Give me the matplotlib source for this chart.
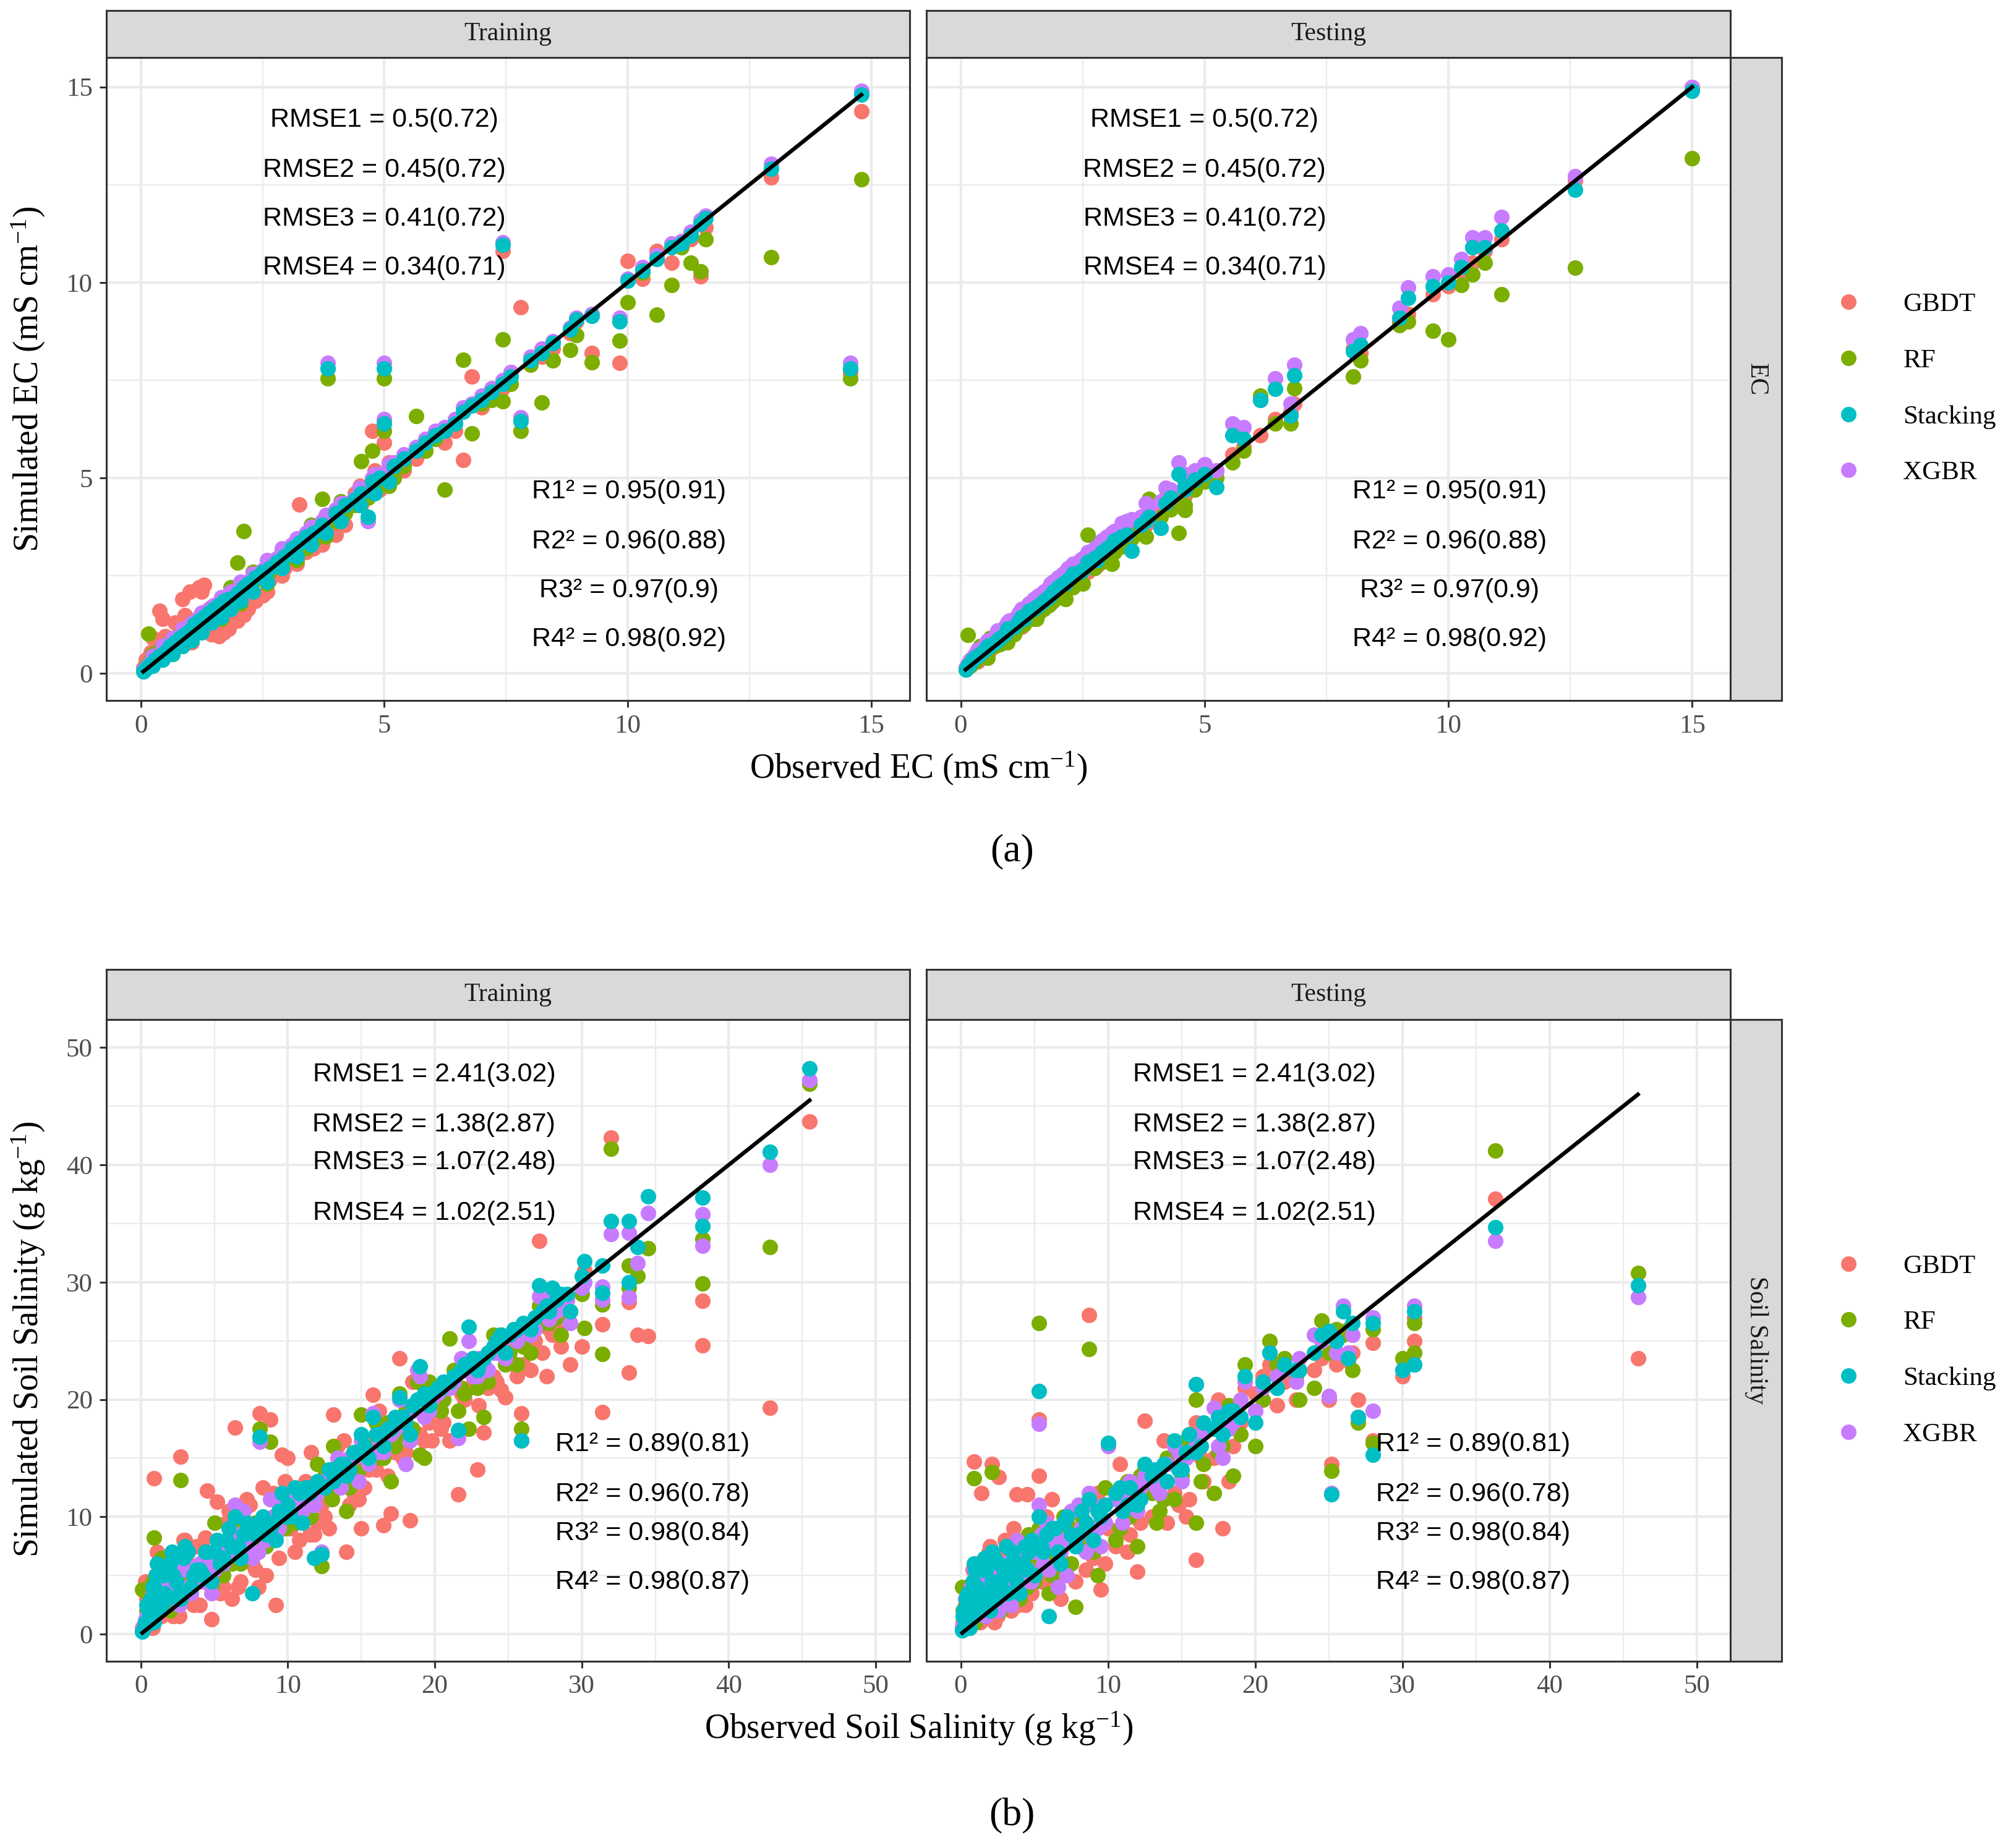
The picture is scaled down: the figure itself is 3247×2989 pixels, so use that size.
import numpy as np
import matplotlib
matplotlib.use('Agg')
import matplotlib.pyplot as plt
from matplotlib.lines import Line2D

plt.rcParams['font.family'] = ['Liberation Serif', 'DejaVu Serif']
plt.rcParams['mathtext.fontset'] = 'custom'
plt.rcParams['mathtext.rm'] = 'Liberation Serif'
plt.rcParams['mathtext.it'] = 'Liberation Serif:italic'

models = ['GBDT', 'RF', 'Stacking', 'XGBR']
colors = {'GBDT': '#F8766D', 'RF': '#7CAE00', 'Stacking': '#00BFC4', 'XGBR': '#C77CFF'}
draw_order = ['GBDT', 'RF', 'XGBR', 'Stacking']

# ---------------- EC, training ----------------
tr_ec_obs = [0.05, 0.1, 0.15, 0.2, 0.3, 0.38, 0.5, 0.6, 0.7, 0.8,
             0.9, 1.0, 1.1, 1.2, 1.3, 1.4, 1.5, 1.6, 1.7, 1.8,
             1.98, 2.11, 2.2, 2.35, 2.5, 2.65, 2.8, 2.95, 3.1, 3.25,
             3.4, 3.55, 3.73, 3.84, 4.0, 4.2, 4.4, 4.53, 4.67, 4.75,
             4.9, 5.0, 5.0, 5.2, 5.4, 5.65, 5.85, 6.05, 6.24, 6.45,
             6.62, 6.8, 7.0, 7.2, 7.44, 7.44, 7.6, 7.8, 8.0, 8.24,
             8.46, 8.82, 8.95, 9.26, 9.83, 10.0, 10.3, 10.6, 10.9, 11.1,
             11.3, 11.5, 11.6, 12.95, 14.57, 14.8,
             0.25, 0.45, 0.65, 0.85, 1.05, 1.25, 1.45, 1.65, 1.85, 2.05,
             2.3, 2.6, 2.9, 3.2, 3.5, 3.8, 4.1, 4.5, 4.8, 5.1]
tr_ec_gbdt = [0.15, 0.35, 0.2, 0.55, 0.3, 1.6, 0.95, 0.7, 1.3, 1.0,
              1.5, 2.1, 1.3, 2.2, 2.26, 1.65, 1.2, 0.95, 1.05, 1.15,
              1.35, 1.5, 1.65, 1.85, 2.0, 2.4, 2.55, 2.7, 2.9, 4.33,
              3.1, 3.2, 3.3, 3.95, 3.55, 3.8, 4.6, 4.3, 4.5, 6.2,
              4.7, 5.1, 5.9, 5.0, 5.2, 5.5, 5.7, 6.0, 5.9, 6.2,
              5.46, 7.6, 6.8, 7.1, 10.8, 7.3, 7.7, 9.37, 8.0, 8.1,
              8.3, 8.7, 9.0, 8.2, 7.95, 10.55, 10.1, 10.8, 10.5, 11.0,
              11.1, 10.15, 11.4, 12.68, 7.7, 14.37,
              0.9, 1.4, 0.5, 1.9, 0.8, 2.1, 1.0, 1.2, 1.4, 1.6,
              1.9, 2.1, 2.5, 2.8, 3.2, 4.0, 4.2, 4.8, 5.2, 5.4]
tr_ec_rf = [0.1, 0.2, 1.02, 0.35, 0.45, 0.6, 0.7, 0.8, 0.85, 1.0,
            1.05, 1.1, 1.3, 1.35, 1.5, 1.55, 1.6, 1.8, 1.85, 1.95,
            2.83, 3.64, 2.3, 2.4, 2.55, 2.6, 2.8, 2.9, 3.05, 3.3,
            3.2, 3.4, 4.46, 7.55, 3.9, 4.1, 4.3, 5.43, 4.5, 5.7,
            4.8, 7.55, 6.2, 5.0, 5.3, 6.58, 5.7, 6.0, 4.7, 6.4,
            8.02, 6.14, 6.9, 7.0, 8.55, 6.96, 7.4, 6.2, 7.9, 6.93,
            8.0, 8.27, 8.65, 7.96, 8.52, 9.5, 10.25, 9.17, 9.93, 10.9,
            10.5, 10.28, 11.1, 10.65, 7.55, 12.64,
            0.5, 0.4, 0.9, 0.7, 1.3, 1.1, 1.7, 1.4, 2.2, 1.8,
            2.6, 2.3, 3.1, 2.9, 3.8, 3.5, 4.4, 4.3, 5.0, 4.8]
tr_ec_xgbr = [0.1, 0.15, 0.22, 0.3, 0.4, 0.5, 0.62, 0.75, 0.85, 0.95,
              1.1, 1.2, 1.3, 1.45, 1.5, 1.6, 1.75, 1.8, 1.9, 2.0,
              2.1, 2.25, 2.35, 2.5, 2.65, 2.8, 2.95, 3.1, 3.3, 3.45,
              3.6, 3.7, 3.9, 7.95, 4.2, 4.35, 4.5, 4.7, 3.9, 5.0,
              5.1, 7.95, 6.5, 5.4, 5.6, 5.8, 6.0, 6.2, 6.3, 6.5,
              6.8, 6.9, 7.1, 7.3, 11.03, 7.5, 7.7, 6.55, 8.1, 8.3,
              8.5, 8.85, 9.1, 9.2, 9.1, 10.1, 10.4, 10.7, 11.0, 11.05,
              11.3, 11.6, 11.7, 13.04, 7.95, 14.9,
              0.45, 0.7, 0.9, 1.15, 1.3, 1.55, 1.7, 1.95, 2.1, 2.35,
              2.55, 2.9, 3.2, 3.45, 3.75, 4.05, 4.35, 4.75, 5.1, 5.35]
tr_ec_stack = [0.05, 0.12, 0.18, 0.25, 0.35, 0.45, 0.55, 0.7, 0.8, 0.9,
               1.0, 1.1, 1.25, 1.35, 1.45, 1.55, 1.65, 1.75, 1.85, 1.9,
               2.05, 2.2, 2.3, 2.45, 2.6, 2.7, 2.85, 3.0, 3.2, 3.35,
               3.5, 3.6, 3.8, 7.8, 4.1, 4.3, 4.45, 4.6, 4.0, 4.9,
               5.0, 7.8, 6.4, 5.3, 5.5, 5.7, 5.9, 6.1, 6.2, 6.4,
               6.7, 6.85, 7.0, 7.2, 10.97, 7.4, 7.6, 6.45, 8.0, 8.2,
               8.45, 8.8, 9.05, 9.15, 9.0, 10.05, 10.3, 10.6, 10.9, 11.0,
               11.2, 11.5, 11.65, 12.9, 7.8, 14.8,
               0.2, 0.35, 0.5, 0.7, 0.85, 1.05, 1.3, 1.45, 1.65, 1.85,
               2.1, 2.35, 2.7, 3.0, 3.3, 3.6, 3.9, 4.3, 4.6, 4.9]

# ---------------- EC, testing ----------------
te_ec_obs = [0.1, 0.15, 0.2, 0.25, 0.3, 0.4, 0.5, 0.6, 0.7, 0.8,
             0.9, 1.0, 1.1, 1.2, 1.3, 1.4, 1.5, 1.6, 1.7, 1.8,
             1.9, 2.0, 2.1, 2.2, 2.3, 2.45, 2.6, 2.75, 2.9, 3.0,
             3.15, 3.3, 3.5, 3.7, 3.86, 4.1, 4.3, 4.47, 4.6, 4.8,
             5.0, 5.24, 5.57, 5.8, 6.15, 6.45, 6.76, 6.84, 8.05, 8.2,
             9.0, 9.17, 9.68, 10.0, 10.26, 10.5, 10.75, 11.09, 12.6, 15.0,
             0.35, 0.55, 0.75, 0.95, 1.25, 1.55, 1.85, 2.15, 2.5, 2.8,
             3.1, 3.4, 3.8, 4.2, 4.6]
te_ec_gbdt = [0.15, 0.2, 0.25, 0.3, 0.35, 0.45, 0.55, 0.6, 0.75, 0.8,
              0.9, 1.05, 1.1, 1.25, 1.3, 1.45, 1.5, 1.65, 1.7, 1.85,
              1.9, 2.05, 2.1, 2.25, 2.3, 2.5, 2.6, 2.8, 2.9, 3.05,
              3.2, 3.3, 3.55, 3.7, 3.9, 4.1, 4.35, 4.5, 4.6, 4.85,
              5.0, 5.2, 5.6, 5.8, 6.1, 6.5, 6.7, 6.9, 8.3, 8.2,
              9.0, 9.2, 9.7, 9.9, 10.28, 10.5, 10.8, 11.1, 12.6, 15.0,
              0.3, 0.5, 0.8, 0.9, 1.2, 1.6, 1.8, 2.1, 2.55, 2.75,
              3.15, 3.35, 3.8, 4.25, 4.55]
te_ec_rf = [0.1, 0.99, 0.2, 0.3, 0.3, 0.7, 0.5, 0.9, 0.7, 0.75,
            0.85, 1.3, 1.0, 1.2, 1.25, 1.5, 1.4, 1.55, 1.65, 1.75,
            1.85, 1.95, 2.0, 2.3, 2.2, 2.4, 3.54, 2.7, 2.85, 2.95,
            3.1, 3.25, 3.45, 3.6, 4.47, 4.0, 4.2, 3.6, 4.18, 4.7,
            4.9, 5.0, 5.4, 5.7, 7.1, 6.4, 6.4, 7.3, 7.6, 8.0,
            8.9, 9.0, 8.77, 8.54, 9.93, 10.2, 10.5, 9.7, 10.37, 13.18,
            0.6, 0.4, 1.0, 0.8, 1.5, 1.4, 2.1, 1.9, 2.3, 3.1,
            2.8, 3.7, 3.5, 4.5, 4.3]
te_ec_xgbr = [0.15, 0.25, 0.35, 0.4, 0.5, 0.6, 0.75, 0.85, 0.95, 1.05,
              1.2, 1.35, 1.4, 1.55, 1.6, 1.8, 1.9, 2.0, 2.1, 2.2,
              2.35, 2.45, 2.55, 2.7, 2.8, 2.9, 3.1, 3.2, 3.4, 3.5,
              3.65, 3.85, 3.95, 4.0, 4.2, 4.4, 4.7, 5.4, 4.9, 5.2,
              5.35, 5.2, 6.4, 6.3, 7.0, 7.55, 6.9, 7.9, 8.54, 8.7,
              9.35, 9.87, 10.16, 10.2, 10.6, 11.15, 11.15, 11.67, 12.72, 15.0,
              0.6, 0.85, 1.1, 1.3, 1.65, 1.95, 2.3, 2.55, 2.95, 3.25,
              3.6, 3.9, 4.35, 4.75, 5.1]
te_ec_stack = [0.1, 0.2, 0.25, 0.35, 0.4, 0.5, 0.6, 0.7, 0.8, 0.9,
               1.0, 1.15, 1.2, 1.35, 1.4, 1.6, 1.65, 1.75, 1.85, 1.95,
               2.1, 2.2, 2.3, 2.4, 2.55, 2.6, 2.85, 2.95, 3.1, 3.2,
               3.4, 3.5, 3.14, 3.8, 4.0, 3.72, 4.5, 5.1, 4.8, 4.95,
               5.1, 4.77, 6.1, 6.0, 7.0, 7.28, 6.6, 7.63, 8.25, 8.4,
               9.1, 9.6, 9.9, 10.0, 10.4, 10.9, 10.9, 11.32, 12.37, 14.9,
               0.45, 0.7, 0.85, 1.15, 1.45, 1.7, 2.0, 2.3, 2.65, 2.9,
               3.3, 3.55, 3.9, 4.35, 4.7]

# ---------------- Soil salinity, training ----------------
tr_ss_obs = [0.1, 0.3, 0.5, 0.7, 0.9, 0.9, 1.2, 1.5, 1.8, 2.1,
             2.4, 2.7, 3.0, 3.4, 3.8, 4.2, 4.5, 4.8, 5.2, 5.6,
             6.0, 6.4, 6.8, 7.2, 7.6, 8.1, 8.5, 8.8, 9.2, 9.6,
             10.0, 10.5, 11.0, 11.5, 11.8, 12.3, 12.8, 13.1, 13.6, 14.0,
             14.5, 15.0, 15.5, 15.8, 16.5, 17.0, 17.6, 18.3, 19.0, 19.6,
             20.2, 21.0, 21.6, 22.3, 22.9, 23.3, 24.0, 24.8, 25.4, 25.9,
             26.5, 27.1, 27.6, 28.0, 28.6, 29.2, 30.2, 31.4, 31.4, 32.0,
             33.2, 33.2, 33.8, 34.5, 38.2, 38.2, 42.8, 45.5,
             0.2, 0.6, 1.0, 1.4, 2.0, 2.6, 3.2, 4.0, 5.0, 6.2,
             7.0, 8.0, 9.0, 10.2, 11.2, 12.0, 13.4, 14.8, 16.0, 17.3,
             18.0, 18.8, 19.3, 20.6, 21.8, 23.6, 24.5, 25.1, 26.0, 27.8,
             0.4, 0.8, 1.1, 1.6, 2.2, 2.9, 3.6, 4.4, 5.4, 5.8,
             6.6, 7.4, 7.8, 8.3, 9.4, 9.8, 10.8, 11.6, 12.5, 13.0,
             13.8, 14.2, 15.2, 16.2, 16.8, 17.8, 18.5, 19.8, 20.4, 21.3,
             22.0, 22.6, 23.0, 24.2, 25.6, 26.8, 27.3, 28.3, 29.0, 30.0]
tr_ss_gbdt = [0.5, 4.5, 1.0, 3.0, 13.3, 2.0, 4.0, 2.5, 6.5, 3.5,
              2.0, 15.1, 8.0, 3.0, 7.5, 5.0, 12.2, 1.25, 11.3, 4.0,
              10.5, 17.6, 4.5, 11.5, 6.0, 18.8, 5.0, 18.3, 2.5, 15.3,
              15.0, 7.0, 12.5, 8.5, 8.5, 11.0, 9.0, 18.7, 13.0, 7.0,
              12.0, 9.0, 14.0, 20.4, 9.3, 10.3, 23.5, 9.7, 17.0, 18.0,
              19.0, 16.5, 11.9, 21.0, 14.0, 17.2, 22.0, 20.2, 23.0, 18.8,
              22.5, 33.5, 22.0, 25.5, 24.5, 23.0, 31.0, 26.4, 18.9, 42.3,
              28.3, 22.3, 25.5, 25.4, 28.4, 24.6, 19.3, 43.7,
              0.8, 2.5, 5.0, 1.5, 4.5, 1.5, 6.0, 2.5, 7.0, 3.0,
              8.0, 4.0, 12.0, 9.0, 13.0, 9.5, 16.0, 11.5, 14.0, 15.5,
              15.5, 20.0, 16.5, 18.0, 20.5, 21.0, 20.8, 24.5, 23.0, 26.0,
              3.0, 0.5, 7.0, 4.5, 1.5, 8.0, 2.5, 8.2, 3.5, 9.5,
              4.0, 11.0, 5.5, 12.5, 6.5, 13.0, 8.0, 15.5, 10.0, 12.0,
              16.5, 11.0, 12.5, 19.0, 13.5, 15.0, 21.5, 16.5, 17.5, 22.0,
              20.0, 23.0, 19.5, 21.5, 22.0, 25.0, 24.0, 26.0, 27.0, 24.5]
tr_ss_rf = [3.8, 1.0, 2.0, 1.5, 8.2, 1.5, 2.5, 3.0, 4.0, 2.5,
            3.5, 13.1, 4.0, 3.8, 5.5, 4.5, 6.0, 4.0, 6.5, 5.0,
            7.5, 9.5, 6.0, 8.0, 7.0, 17.5, 7.5, 16.4, 8.5, 10.5,
            11.0, 9.5, 11.5, 10.5, 12.0, 5.8, 12.0, 16.0, 14.0, 10.5,
            15.5, 18.7, 14.5, 16.0, 15.0, 13.0, 20.5, 16.5, 15.3, 21.5,
            19.5, 25.2, 19.0, 17.5, 21.0, 18.5, 25.5, 23.0, 26.0, 17.5,
            24.0, 28.0, 27.0, 28.5, 25.5, 27.5, 26.1, 28.1, 23.9, 41.4,
            31.4, 29.5, 30.5, 32.9, 33.7, 29.9, 33.0, 46.9,
            0.5, 3.0, 1.8, 6.5, 2.0, 3.5, 5.0, 4.5, 9.5, 6.0,
            7.0, 9.5, 8.0, 11.5, 12.5, 14.5, 12.5, 14.0, 18.0, 16.0,
            19.0, 21.5, 15.0, 20.0, 21.0, 21.5, 25.5, 24.0, 24.5, 26.5,
            2.0, 4.5, 3.0, 2.5, 5.0, 3.5, 5.5, 6.5, 6.0, 7.5,
            8.0, 6.5, 9.5, 7.5, 10.5, 9.0, 12.0, 10.0, 13.5, 11.5,
            14.5, 12.5, 16.5, 15.0, 18.0, 17.0, 17.5, 21.0, 19.0, 22.5,
            20.5, 23.5, 22.0, 24.5, 23.0, 26.0, 26.5, 27.0, 28.5, 29.0]
tr_ss_xgbr = [0.3, 1.2, 1.5, 2.5, 2.0, 3.5, 2.5, 4.0, 3.0, 5.0,
              3.0, 4.0, 6.0, 3.5, 5.5, 4.5, 6.5, 3.5, 7.0, 6.0,
              7.5, 11.0, 7.0, 8.5, 6.5, 16.4, 8.0, 11.5, 8.5, 11.0,
              10.5, 11.5, 10.5, 12.5, 11.0, 7.0, 13.5, 14.0, 12.5, 14.5,
              15.0, 16.5, 14.5, 18.8, 15.5, 17.0, 20.0, 16.5, 22.0, 19.0,
              20.5, 21.0, 16.7, 25.0, 22.0, 23.0, 24.0, 23.5, 25.5, 16.5,
              25.5, 28.8, 27.5, 29.0, 28.5, 26.5, 30.0, 29.6, 28.5, 34.1,
              34.2, 28.7, 31.6, 35.9, 35.8, 33.1, 40.0, 47.2,
              0.8, 2.0, 1.5, 3.0, 4.0, 2.5, 4.0, 6.0, 5.5, 8.5,
              10.5, 7.0, 10.0, 12.0, 11.0, 12.0, 15.0, 13.0, 15.5, 17.5,
              14.5, 22.5, 18.5, 21.0, 23.5, 22.5, 24.5, 25.5, 26.0, 26.8,
              1.5, 3.5, 2.5, 4.5, 3.5, 5.5, 4.5, 6.0, 7.0, 6.5,
              8.5, 7.5, 9.0, 9.5, 9.0, 11.0, 11.5, 11.0, 13.0, 13.5,
              14.0, 15.0, 15.5, 16.5, 17.5, 18.0, 19.0, 20.0, 21.0, 21.5,
              22.5, 22.0, 23.5, 24.0, 25.0, 26.0, 27.5, 27.5, 28.5, 29.5]
tr_ss_stack = [0.2, 1.0, 2.0, 3.0, 1.0, 4.0, 2.0, 5.0, 3.0, 7.0,
               4.5, 3.0, 7.5, 4.0, 5.5, 5.0, 7.0, 4.5, 8.0, 6.5,
               9.0, 10.0, 6.5, 9.5, 3.5, 16.8, 8.5, 9.0, 8.0, 12.0,
               11.0, 12.5, 9.5, 12.0, 6.5, 6.8, 14.0, 13.0, 14.5, 13.5,
               15.5, 17.0, 15.0, 18.5, 16.0, 17.5, 20.2, 17.0, 22.8, 19.5,
               21.0, 21.5, 17.4, 26.2, 22.5, 23.5, 24.5, 24.0, 26.0, 16.5,
               26.0, 29.7, 28.0, 29.5, 29.0, 27.5, 31.8, 31.4, 29.1, 35.2,
               35.2, 30.0, 33.0, 37.3, 37.2, 34.8, 41.1, 48.2,
               0.5, 1.5, 5.0, 2.5, 6.0, 3.5, 7.0, 5.5, 7.0, 7.5,
               8.5, 9.5, 9.5, 10.0, 12.5, 13.0, 14.0, 15.5, 17.0, 18.5,
               18.0, 20.0, 20.5, 21.5, 22.5, 24.0, 25.5, 25.5, 26.5, 27.5,
               2.5, 4.0, 6.0, 3.5, 5.0, 6.5, 5.0, 7.0, 6.0, 8.0,
               7.5, 9.0, 8.5, 10.0, 10.5, 10.0, 12.0, 12.5, 12.5, 14.0,
               14.5, 14.0, 16.0, 17.0, 17.5, 18.5, 19.5, 20.5, 21.0, 22.0,
               23.0, 23.5, 23.0, 25.0, 26.0, 27.0, 27.5, 28.5, 29.0, 30.5]

# ---------------- Soil salinity, testing ----------------
te_ss_obs = [0.1, 0.2, 0.3, 0.5, 0.7, 0.9, 0.9, 1.1, 1.4, 1.6,
             1.8, 2.1, 2.1, 2.4, 2.6, 2.9, 3.2, 3.5, 3.8, 4.2,
             4.5, 4.8, 5.3, 5.3, 5.6, 6.0, 6.4, 6.8, 7.2, 7.8,
             8.2, 8.7, 9.0, 9.5, 10.0, 10.5, 11.0, 11.5, 12.0, 12.5,
             13.0, 13.5, 14.0, 14.5, 15.0, 15.5, 16.0, 16.0, 16.5, 17.2,
             17.8, 18.5, 19.3, 20.0, 20.5, 21.0, 22.0, 22.8, 24.0, 24.5,
             25.0, 25.2, 26.0, 26.3, 27.0, 28.0, 28.0, 30.0, 30.8, 30.8,
             36.3, 46.0,
             0.4, 0.6, 1.0, 1.3, 1.7, 2.0, 2.5, 3.0, 3.4, 4.0,
             4.4, 5.0, 5.8, 6.6, 7.5, 8.5, 9.3, 11.3, 13.3, 15.3,
             0.15, 0.35, 0.55, 0.8, 1.2, 1.5, 1.9, 2.3, 2.7, 3.1,
             3.6, 3.9, 4.6, 5.5, 6.2, 7.0, 8.0, 9.8, 10.8, 12.2,
             13.8, 14.8, 16.3, 17.5, 18.2, 19.0, 21.5, 23.0, 25.5, 26.6]
te_ss_gbdt = [0.5, 2.0, 1.0, 3.0, 1.5, 14.7, 4.0, 2.5, 12.0, 3.5,
              5.0, 14.5, 3.0, 4.0, 13.4, 2.5, 5.5, 3.0, 11.9, 4.0,
              11.9, 3.5, 18.3, 13.5, 5.5, 4.0, 7.5, 3.0, 6.0, 4.5,
              8.0, 27.2, 6.5, 3.8, 9.0, 7.5, 11.0, 8.5, 5.3, 18.2,
              10.0, 14.0, 9.5, 12.0, 15.5, 11.5, 6.3, 18.0, 13.0, 15.0,
              9.0, 16.0, 21.0, 20.5, 22.0, 23.0, 21.5, 20.0, 22.5, 23.5,
              20.0, 14.5, 27.5, 23.3, 20.0, 24.8, 16.5, 22.0, 25.0, 27.0,
              37.1, 23.5,
              1.5, 0.5, 6.0, 1.0, 2.0, 7.5, 1.5, 8.0, 2.0, 6.5,
              2.5, 8.5, 10.0, 5.0, 9.0, 5.5, 12.0, 7.0, 13.5, 10.0,
              1.0, 2.5, 0.5, 5.5, 1.5, 4.0, 7.0, 1.0, 6.5, 3.0,
              9.0, 2.5, 6.0, 4.5, 11.5, 5.0, 10.5, 6.0, 14.5, 9.5,
              16.5, 11.0, 15.0, 20.0, 13.0, 18.0, 19.5, 22.5, 23.0, 24.0]
te_ss_rf = [4.0, 1.0, 2.5, 1.0, 3.0, 13.3, 2.0, 4.5, 6.0, 2.0,
            3.5, 13.8, 6.5, 2.5, 5.0, 4.0, 2.5, 7.0, 5.0, 6.5,
            4.0, 6.0, 26.5, 9.0, 7.0, 3.5, 8.0, 5.5, 9.5, 2.3,
            10.0, 24.3, 7.0, 9.5, 16.3, 8.0, 12.5, 10.0, 7.5, 14.0,
            12.0, 10.5, 15.0, 11.5, 13.5, 17.0, 9.5, 20.0, 14.5, 12.0,
            16.0, 13.5, 23.0, 16.0, 20.0, 25.0, 23.5, 22.0, 21.0, 26.7,
            24.0, 13.9, 25.5, 26.0, 18.0, 26.0, 16.3, 23.5, 24.0, 26.5,
            41.2, 30.8,
            0.5, 2.5, 1.0, 3.5, 4.0, 3.0, 6.0, 3.5, 4.5, 3.0,
            8.0, 4.5, 6.5, 9.0, 6.0, 11.0, 5.0, 13.0, 9.5, 16.5,
            2.0, 0.5, 3.5, 1.5, 5.0, 2.5, 3.0, 5.5, 2.0, 6.0,
            4.0, 7.5, 8.5, 6.5, 5.0, 10.0, 7.5, 12.5, 9.0, 13.5,
            11.5, 16.0, 13.0, 15.5, 19.5, 17.0, 23.0, 20.0, 26.0, 22.5]
te_ss_xgbr = [0.5, 1.5, 3.0, 2.0, 4.0, 1.5, 5.5, 3.0, 2.0, 5.0,
              3.0, 4.0, 7.0, 5.0, 2.0, 6.0, 4.0, 3.5, 8.0, 5.0,
              7.0, 4.5, 17.9, 11.0, 6.0, 5.5, 8.5, 7.0, 5.0, 8.0,
              9.0, 12.0, 11.0, 7.5, 16.0, 11.5, 9.5, 13.0, 10.5, 13.5,
              14.0, 12.0, 14.5, 16.0, 13.0, 15.5, 21.3, 16.0, 17.5, 19.3,
              15.0, 18.0, 21.5, 19.0, 21.0, 24.0, 22.5, 21.5, 25.5, 25.0,
              20.3, 12.0, 28.0, 24.0, 18.5, 27.0, 19.0, 22.5, 23.0, 28.0,
              33.5, 28.7,
              1.0, 3.5, 2.5, 4.5, 1.5, 5.0, 3.0, 6.0, 2.5, 6.5,
              4.5, 7.0, 9.5, 4.0, 10.5, 7.0, 9.0, 11.5, 12.5, 15.0,
              0.8, 2.0, 1.5, 3.5, 4.0, 2.5, 5.5, 3.0, 5.0, 4.5,
              6.5, 4.0, 5.5, 8.5, 7.5, 8.0, 11.0, 9.5, 12.0, 12.5,
              13.0, 15.5, 17.0, 16.0, 17.5, 20.0, 22.0, 23.5, 24.0, 25.5]
te_ss_stack = [0.3, 2.0, 1.0, 3.5, 2.0, 6.0, 1.5, 4.0, 3.0, 6.5,
               2.5, 7.0, 4.5, 3.0, 6.0, 5.0, 3.5, 7.0, 4.5, 6.0,
               5.5, 8.0, 20.7, 10.0, 7.0, 1.5, 9.0, 6.0, 10.0, 7.5,
               10.5, 11.5, 8.0, 10.0, 16.3, 12.0, 10.5, 12.5, 11.0, 14.5,
               13.5, 14.0, 13.0, 16.5, 14.0, 17.0, 21.3, 15.5, 18.0, 17.5,
               17.0, 19.0, 22.0, 18.0, 21.5, 24.0, 23.0, 22.5, 24.0, 25.5,
               25.8, 11.9, 27.5, 23.5, 18.5, 26.5, 15.3, 22.5, 23.0, 27.5,
               34.7, 29.7,
               1.5, 0.5, 5.5, 2.5, 5.5, 2.0, 4.0, 5.0, 6.0, 3.5,
               7.5, 5.0, 8.5, 7.0, 8.5, 9.5, 10.5, 11.0, 14.0, 15.5,
               1.5, 3.0, 2.5, 4.5, 2.5, 5.5, 3.5, 6.5, 4.0, 7.5,
               5.5, 6.0, 7.0, 7.5, 9.0, 9.5, 8.5, 11.0, 12.5, 11.5,
               14.5, 14.0, 16.0, 18.5, 19.0, 18.5, 21.0, 22.5, 25.0, 26.5]

rmse_ec = ['0.5(0.72)', '0.45(0.72)', '0.41(0.72)', '0.34(0.71)']
r2_ec = ['0.95(0.91)', '0.96(0.88)', '0.97(0.9)', '0.98(0.92)']
rmse_ss = ['2.41(3.02)', '1.38(2.87)', '1.07(2.48)', '1.02(2.51)']
r2_ss = ['0.89(0.81)', '0.96(0.78)', '0.98(0.84)', '0.98(0.87)']

W, H = 3248, 2989
DPI = 200
fig = plt.figure(figsize=(W / DPI, H / DPI), dpi=DPI)

edge = '#333333'
strip_fill = '#D9D9D9'
grid_col = '#EBEBEB'
ann_font = ['Liberation Sans', 'DejaVu Sans']


def px(x0, y0, x1, y1):
    # rectangle given in the 1568 x 1443 preview frame
    sw, sh = 1568.0, 1443.0
    return [x0 / sw, 1 - y1 / sh, (x1 - x0) / sw, (y1 - y0) / sh]


def strip(rect, label, rotation=0):
    s = fig.add_axes(rect)
    s.set_facecolor(strip_fill)
    s.set_xticks([])
    s.set_yticks([])
    for sp in s.spines.values():
        sp.set_color(edge)
        sp.set_linewidth(1.1)
    s.text(0.5, 0.5, label, transform=s.transAxes, ha='center', va='center',
           rotation=rotation, fontsize=15, color='#1A1A1A')


def panel(rect, obs, sims, xlim, ylim, major, minor, rmse, r2,
          rmse_pos, r2_pos, show_y):
    ax = fig.add_axes(rect)
    ax.set_xlim(xlim)
    ax.set_ylim(ylim)
    ax.set_xticks(major)
    ax.set_yticks(major)
    ax.set_xticks(minor, minor=True)
    ax.set_yticks(minor, minor=True)
    ax.grid(which='major', color=grid_col, lw=1.5, zorder=0)
    ax.grid(which='minor', color=grid_col, lw=0.8, zorder=0)
    ax.set_axisbelow(True)
    ax.tick_params(which='minor', length=0)
    ax.tick_params(which='major', length=4, width=1.1, color=edge,
                   labelsize=15.5, labelcolor='#4D4D4D', pad=4)
    if not show_y:
        ax.tick_params(axis='y', length=0, labelleft=False)
    for sp in ax.spines.values():
        sp.set_color(edge)
        sp.set_linewidth(1.1)
    for m in draw_order:
        ax.scatter(obs, sims[m], s=82, color=colors[m], linewidths=0, zorder=2)
    lo, hi = min(obs), max(obs)
    ax.plot([lo, hi], [lo, hi], color='black', lw=2.3, zorder=3)
    xr, yr = rmse_pos
    for i, txt in enumerate(rmse):
        ax.text(xr, yr[i], 'RMSE%d = %s' % (i + 1, txt), ha='center', va='center',
                fontsize=15.5, family=ann_font, color='black', zorder=4)
    xr, yr = r2_pos
    for i, txt in enumerate(r2):
        ax.text(xr, yr[i], 'R%d\u00b2 = %s' % (i + 1, txt), ha='center', va='center',
                fontsize=15.5, family=ann_font, color='black', zorder=4)
    return ax


ec_lim = (-0.71, 15.79)
ec_ylim = (-0.69, 15.75)
ss_lim = (-2.35, 52.3)
ss_ylim = (-2.3, 52.4)
ec_major = [0, 5, 10, 15]
ec_minor = [2.5, 7.5, 12.5]
ss_major = [0, 10, 20, 30, 40, 50]
ss_minor = [5, 15, 25, 35, 45]
ec_rmse_pos = (5.0, [14.15, 12.87, 11.63, 10.38])
ec_r2_pos = (10.03, [4.65, 3.37, 2.13, 0.88])
ss_rmse_pos = (19.95, [47.7, 43.45, 40.2, 35.9])
ss_r2_pos = (34.8, [16.2, 11.9, 8.6, 4.4])

sets = [
    (px(83, 45, 710, 547), tr_ec_obs,
     {'GBDT': tr_ec_gbdt, 'RF': tr_ec_rf, 'XGBR': tr_ec_xgbr, 'Stacking': tr_ec_stack},
     ec_lim, ec_ylim, ec_major, ec_minor, rmse_ec, r2_ec, ec_rmse_pos, ec_r2_pos, True),
    (px(723, 45, 1351, 547), te_ec_obs,
     {'GBDT': te_ec_gbdt, 'RF': te_ec_rf, 'XGBR': te_ec_xgbr, 'Stacking': te_ec_stack},
     ec_lim, ec_ylim, ec_major, ec_minor, rmse_ec, r2_ec, ec_rmse_pos, ec_r2_pos, False),
    (px(83, 796, 710, 1297), tr_ss_obs,
     {'GBDT': tr_ss_gbdt, 'RF': tr_ss_rf, 'XGBR': tr_ss_xgbr, 'Stacking': tr_ss_stack},
     ss_lim, ss_ylim, ss_major, ss_minor, rmse_ss, r2_ss, ss_rmse_pos, ss_r2_pos, True),
    (px(723, 796, 1351, 1297), te_ss_obs,
     {'GBDT': te_ss_gbdt, 'RF': te_ss_rf, 'XGBR': te_ss_xgbr, 'Stacking': te_ss_stack},
     ss_lim, ss_ylim, ss_major, ss_minor, rmse_ss, r2_ss, ss_rmse_pos, ss_r2_pos, False),
]
for args in sets:
    panel(*args)

# facet strips
strip(px(83, 8, 710, 45), 'Training')
strip(px(723, 8, 1351, 45), 'Testing')
strip(px(1351, 45, 1391, 547), 'EC', rotation=-90)
strip(px(83, 757, 710, 796), 'Training')
strip(px(723, 757, 1351, 796), 'Testing')
strip(px(1351, 796, 1391, 1297), 'Soil Salinity', rotation=-90)

# axis titles and panel tags
fig.text(717 / 1568, 1 - 600 / 1443, 'Observed EC (mS cm$^{-1}$)', ha='center', va='center', fontsize=20)
fig.text(22 / 1568, 1 - 296 / 1443, 'Simulated EC (mS cm$^{-1}$)', ha='center', va='center',
         rotation=90, fontsize=20)
fig.text(717 / 1568, 1 - 1350 / 1443, 'Observed Soil Salinity (g kg$^{-1}$)', ha='center', va='center',
         fontsize=20)
fig.text(22 / 1568, 1 - 1046 / 1443, 'Simulated Soil Salinity (g kg$^{-1}$)', ha='center', va='center',
         rotation=90, fontsize=20)
fig.text(790 / 1568, 1 - 665 / 1443, '(a)', ha='center', va='center', fontsize=23)
fig.text(790 / 1568, 1 - 1418 / 1443, '(b)', ha='center', va='center', fontsize=23)

# legends
handles = [Line2D([], [], marker='o', ls='', color=colors[m], markersize=9, markeredgewidth=0)
           for m in models]
for yc in (1 - 303.5 / 1443, 1 - 1054.5 / 1443):
    fig.legend(handles, models, loc='center left', bbox_to_anchor=(0.907, yc),
               frameon=False, handlelength=1.0, handletextpad=1.55, labelspacing=1.2,
               borderpad=0, fontsize=15.5)

fig.savefig('out.png', dpi=DPI)
